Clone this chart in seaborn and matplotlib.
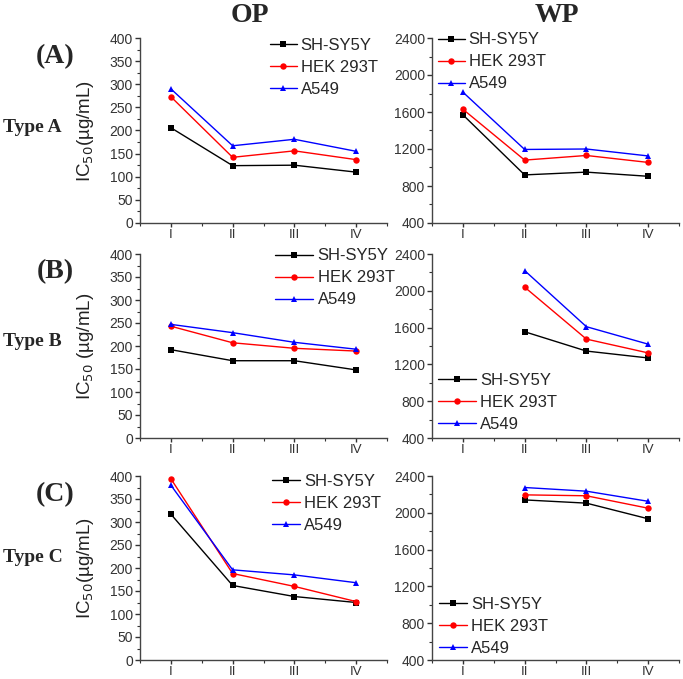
import numpy as np
import pandas as pd
import seaborn as sns
import matplotlib.pyplot as plt

stages = ['I', 'II', 'III', 'IV']
cells = ['SH-SY5Y', 'HEK 293T', 'A549']
colors = ['black', 'red', 'blue']
marks = ['s', 'o', '^']

# OP panels (IC50, ug/mL)
op_a_sh = [206, 124, 125, 110]
op_a_hek = [273, 142, 156, 137]
op_a_a549 = [290, 167, 181, 155]
op_b_sh = [192, 168, 168, 148]
op_b_hek = [243, 207, 195, 189]
op_b_a549 = [247, 229, 208, 193]
op_c_sh = [317, 162, 138, 125]
op_c_hek = [394, 188, 160, 127]
op_c_a549 = [380, 196, 185, 168]

# WP panels
wp_a_sh = [1570, 920, 950, 905]
wp_a_hek = [1630, 1080, 1130, 1055]
wp_a_a549 = [1815, 1195, 1200, 1125]
wp_b_sh = [None, 1555, 1345, 1270]
wp_b_hek = [None, 2040, 1475, 1325]
wp_b_a549 = [None, 2220, 1610, 1420]
wp_c_sh = [None, 2140, 2105, 1935]
wp_c_hek = [None, 2195, 2185, 2050]
wp_c_a549 = [None, 2275, 2235, 2125]

sns.set_style('ticks')
plt.rcParams['font.family'] = ['Liberation Sans', 'DejaVu Sans']

W, H = 683, 679
fig = plt.figure(figsize=(W / 100, H / 100), dpi=100)


def frame(series):
    rows = []
    for cell, vals in zip(cells, series):
        for i, v in enumerate(vals):
            if v is not None:
                rows.append({'stage': i, 'ic50': v, 'cell': cell})
    return pd.DataFrame(rows)


def px_axes(left, top, right, bottom):
    return fig.add_axes([left / W, 1 - bottom / H, (right - left) / W, (bottom - top) / H])


panels = [
    # series, box (l, t, r, b), op?, legend anchor, handlelength, ylabel
    ([op_a_sh, op_a_hek, op_a_a549], (140, 38, 387, 223), True, (0.526, 1.0), 1.6, 'IC$_{50}$(µg/mL)'),
    ([wp_a_sh, wp_a_hek, wp_a_a549], (432, 38, 679, 223), False, (0.024, 1.03), 1.6, None),
    ([op_b_sh, op_b_hek, op_b_a549], (140, 254, 387, 438), True, (0.547, 1.03), 2.3, 'IC$_{50}$ (µg/mL)'),
    ([wp_b_sh, wp_b_hek, wp_b_a549], (432, 254, 679, 438), False, (0.024, 0.355), 2.3, None),
    ([op_c_sh, op_c_hek, op_c_a549], (140, 476, 387, 660), True, (0.534, 1.01), 1.7, 'IC$_{50}$(µg/mL)'),
    ([wp_c_sh, wp_c_hek, wp_c_a549], (432, 476, 679, 660), False, (0.028, 0.345), 1.7, None),
]

for series, box, is_op, anchor, hl, ylab in panels:
    ax = px_axes(*box)
    df = frame(series)
    sns.lineplot(data=df, x='stage', y='ic50', hue='cell', style='cell',
                 hue_order=cells, style_order=cells, palette=colors,
                 markers=marks, dashes=False, markersize=4.6,
                 markeredgewidth=0, linewidth=1, errorbar=None, ax=ax)
    ax.set_xlim(-0.5, 3.5)
    ax.set_xticks(range(len(stages)))
    ax.set_xticklabels(stages)
    ax.set_xticks(np.arange(-0.5, 3.6, 0.5), minor=True)
    if is_op:
        ax.set_ylim(0, 400)
        ax.set_yticks(range(0, 401, 50))
        ax.set_yticks(range(0, 401, 25), minor=True)
    else:
        ax.set_ylim(400, 2400)
        ax.set_yticks(range(400, 2401, 400))
        ax.set_yticks(range(400, 2401, 200), minor=True)
    ax.set_xlabel('')
    ax.set_ylabel(ylab if ylab else '', fontsize=13.5, color='#222222')
    ax.yaxis.set_label_coords(-0.18, 0.5)
    ax.tick_params(which='major', length=3.5, width=1, labelsize=10,
                   colors='#333333', pad=1.5)
    ax.tick_params(axis='x', which='major', length=3, pad=1.5, labelsize=9.5)
    ax.tick_params(which='minor', length=2, width=0.8, colors='#333333')
    for side in ['left', 'bottom']:
        ax.spines[side].set_color('#444444')
        ax.spines[side].set_linewidth(1)
    sns.despine(ax=ax)
    sns.move_legend(ax, 'upper left', bbox_to_anchor=anchor, frameon=False,
                    title='', fontsize=12, handlelength=hl, handletextpad=0.25,
                    labelspacing=0.42, borderpad=0, borderaxespad=0)

serif = ['Liberation Serif', 'DejaVu Serif']
fig.text(250 / W, 1 - 15 / H, 'OP', ha='center', va='center', fontsize=20,
         fontweight='bold', family=serif)
fig.text(557 / W, 1 - 15 / H, 'WP', ha='center', va='center', fontsize=20,
         fontweight='bold', family=serif)
for lab, y in [('(A)', 57), ('(B)', 272), ('(C)', 495)]:
    fig.text(55 / W, 1 - y / H, lab, ha='center', va='center', fontsize=20,
             fontweight='bold', family=serif)
for lab, y in [('Type A', 127), ('Type B', 342), ('Type C', 557)]:
    fig.text(3 / W, 1 - y / H, lab, ha='left', va='center', fontsize=14,
             fontweight='bold', family=serif)

fig.savefig('out.png', dpi=100)
